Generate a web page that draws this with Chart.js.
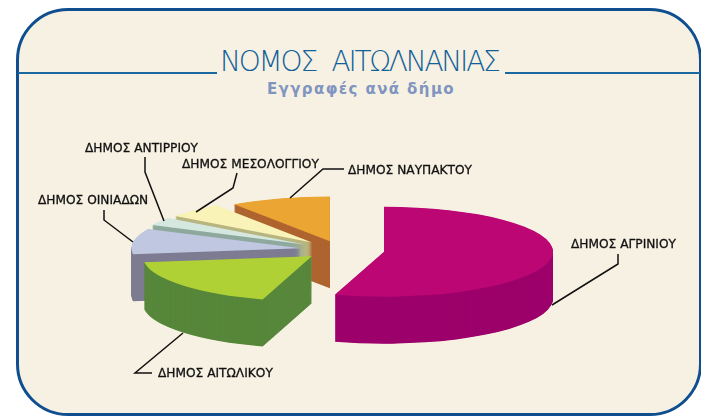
<!DOCTYPE html>
<html>
<head>
<meta charset="utf-8">
<style>
    html, body { margin: 0; padding: 0; background: #fff; }
    #wrap { position: relative; width: 701px; height: 419px; overflow: hidden; }
    #frame {
        position: absolute; left: 16px; top: 8px; width: 686px; height: 408px;
        box-sizing: border-box; border: 3px solid #0f4f8f; border-radius: 52px;
        background: #f6f1e2;
    }
    .rule { position: absolute; top: 72px; height: 2px; background: #1a68a0; }
    #title {
        position: absolute; left: 220px; top: 45px;
        font: 200 28px "DejaVu Sans", sans-serif; letter-spacing: -2.2px; word-spacing: 9px;
        color: #12609a; white-space: nowrap;
    }
    #subtitle {
        position: absolute; left: 216px; top: 80px; width: 290px; text-align: center;
        font: bold 15px "DejaVu Sans", sans-serif; letter-spacing: 1.4px; color: #7f94c0; white-space: nowrap;
    }
    canvas { position: absolute; left: 0; top: 0; }
</style>
<script src="https://cdn.jsdelivr.net/npm/chart.js@4"></script>
</head>
<body>
<div id="wrap">
    <div id="frame"></div>
    <div class="rule" style="left:18px;width:199px"></div>
    <div class="rule" style="left:505px;width:195px"></div>
    <div id="title">ΝΟΜΟΣ ΑΙΤΩΛΝΑΝΙΑΣ</div>
    <div id="subtitle">Εγγραφές ανά δήμο</div>
    <canvas id="chart" width="701" height="419"></canvas>
</div>
<script>
const categories = ['ΔΗΜΟΣ ΑΓΡΙΝΙΟΥ', 'ΔΗΜΟΣ ΑΙΤΩΛΙΚΟΥ', 'ΔΗΜΟΣ ΟΙΝΙΑΔΩΝ', 'ΔΗΜΟΣ ΑΝΤΙΡΡΙΟΥ', 'ΔΗΜΟΣ ΜΕΣΟΛΟΓΓΙΟΥ', 'ΔΗΜΟΣ ΝΑΥΠΑΚΤΟΥ'];
const shares = [54.7, 18.2, 9.2, 2.9, 5.4, 9.6];

const topColors = ['#bc0674', '#afd136', '#bfc8e0', '#d5e8e0', '#f9f3b8', '#eba533'];
const wallColors = ['#9d006b', '#57873b', '#7e7c92', '#8fa99e', '#b8b580', '#af6530'];

// how far each slice is pulled out of the pie
const explode = [44.5, 37, 40, 41, 40, 34];
const squash = 0.266;
const depth = 47;

// label position and leader line for each slice
const labelPos = [[571, 248], [158, 377], [38, 204], [85, 152], [182, 168], [348, 174]];
const leaders = [
    [[552, 305], [618, 264], [618, 254]],
    [[183, 333], [135, 373], [152, 373]],
    [[133, 242], [104, 220], [104, 210]],
    [[145, 157], [145, 172], [164, 221]],
    [[237, 173], [233, 188], [196, 212]],
    [[290, 198], [323, 169], [344, 169]]
];

const drawArc = (ctx, arc, color) => {
    const saved = arc.options;
    arc.options = Object.assign({}, saved, { backgroundColor: color, borderWidth: 0 });
    arc.draw(ctx);
    arc.options = saved;
};

const pie3d = {
    id: 'pie3d',
    beforeDatasetsDraw(chart) {
        const ctx = chart.ctx;
        const arcs = chart.getDatasetMeta(0).data;
        // back to front, the orange slice is furthest away
        for (let i = arcs.length - 1; i >= 0; i--) {
            const arc = arcs[i];
            const mid = (arc.startAngle + arc.endAngle) / 2;
            for (let z = depth; z >= 0; z -= 0.5) {
                ctx.save();
                ctx.translate(arc.x, arc.y + z);
                ctx.scale(1, squash);
                ctx.translate(-arc.x, -arc.y);
                ctx.translate(Math.cos(mid) * explode[i], Math.sin(mid) * explode[i]);
                drawArc(ctx, arc, z === 0 ? topColors[i] : wallColors[i]);
                ctx.restore();
            }
        }
        return false;
    },
    afterDraw(chart) {
        const ctx = chart.ctx;
        ctx.save();
        ctx.strokeStyle = '#111';
        ctx.fillStyle = '#111';
        ctx.font = '12.2px "DejaVu Sans", sans-serif';
        categories.forEach((name, i) => {
            ctx.lineWidth = 1.5;
            ctx.beginPath();
            leaders[i].forEach((p, k) => k === 0 ? ctx.moveTo(p[0], p[1]) : ctx.lineTo(p[0], p[1]));
            ctx.stroke();
            ctx.fillText(name, labelPos[i][0], labelPos[i][1]);
            ctx.lineWidth = 0.3;
            ctx.strokeText(name, labelPos[i][0], labelPos[i][1]);
        });
        ctx.restore();
    }
};

new Chart(document.getElementById('chart'), {
    type: 'pie',
    data: {
        labels: categories,
        datasets: [{
            data: shares,
            backgroundColor: topColors,
            borderWidth: 0
        }]
    },
    options: {
        responsive: false,
        animation: false,
        radius: 169,
        layout: { padding: { top: 81, right: 21 } },
        plugins: {
            legend: { display: false },
            tooltip: { enabled: false }
        }
    },
    plugins: [pie3d]
});
</script>
</body>
</html>
